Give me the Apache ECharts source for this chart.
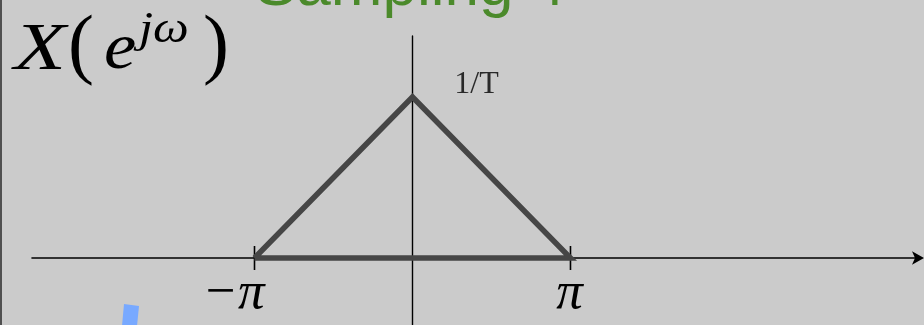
<!DOCTYPE html>
<html>
<head>
<meta charset="utf-8">
<title>Sampling 4</title>
<script src="https://cdn.jsdelivr.net/npm/echarts@6/dist/echarts.min.js"></script>
<style>
  html, body { margin: 0; padding: 0; background: #cbcbcb; }
  #chart { width: 924px; height: 325px; }
</style>
</head>
<body>
<div id="chart"></div>
<script>
// Spectrum X(e^{jω}) of the sampled signal: a triangle between −π and π, peak 1/T
const omega = [-Math.PI, 0, Math.PI, -Math.PI];
const magnitude = [0, 1, 0, 0];          // amplitude in units of 1/T
const peakLabel = '1/T';
const tickValues = [-Math.PI, Math.PI];
const tickLabels = ['−π', 'π'];
const titleText = 'Sampling 4';

const chart = echarts.init(document.getElementById('chart'), null, { renderer: 'canvas' });

const lineData = omega.map((w, i) => [w, magnitude[i]]);
// label offsets put the π glyph right under its tick
const labelShift = [[-21, 36], [-1, 36]];
const tickData = tickValues.map((w, i) => ({
  value: [w, 0],
  name: tickLabels[i],
  label: { offset: labelShift[i] }
}));

const ink = '#000000';
const curve = '#464646';
const serif = '"Liberation Serif", "Times New Roman", serif';

chart.setOption({
  backgroundColor: '#cbcbcb',
  animation: false,
  grid: { left: 32, right: 6, top: 36, bottom: 0, containLabel: false },
  xAxis: {
    type: 'value',
    min: -7.566,
    max: 10.052,
    axisLine: {
      onZero: true,
      lineStyle: { color: ink, width: 1.6 },
      symbol: ['none', 'arrow'],
      symbolSize: [10, 12],
      symbolOffset: [0, 6]
    },
    axisTick: { show: false },
    axisLabel: { show: false },
    splitLine: { show: false }
  },
  yAxis: {
    type: 'value',
    min: -0.4161,
    max: 1.3789,
    axisLine: { show: true, onZero: true, lineStyle: { color: ink, width: 1.4 } },
    axisTick: { show: false },
    axisLabel: { show: false },
    splitLine: { show: false }
  },
  graphic: [
    // slide frame edge on the left
    { type: 'rect', shape: { x: 0, y: 0, width: 2, height: 325 }, style: { fill: '#505050' }, silent: true, z: 10 },
    // heading of the slide
    {
      type: 'text', x: 255, y: -43,
      style: { text: titleText, fill: '#4b8a2b', font: '62px "Liberation Sans", Arial, sans-serif' }
    },
    // X(e^{jω}) heading of the plot
    { type: 'text', x: 14, y: 17, scaleX: 1.25, style: { text: 'X', fill: '#000', font: 'italic 68px ' + serif } },
    { type: 'text', x: 68, y: 10, style: { text: '(', fill: '#000', font: '78px ' + serif } },
    { type: 'text', x: 104, y: 18, scaleX: 1.1, style: { text: 'e', fill: '#000', font: 'italic 66px ' + serif } },
    { type: 'text', x: 139, y: 8, scaleX: 1.15, style: { text: 'jω', fill: '#000', font: 'italic 44px ' + serif } },
    { type: 'text', x: 203, y: 10, style: { text: ')', fill: '#000', font: '78px ' + serif } },
    // pen stroke at the lower left
    {
      type: 'polygon',
      shape: { points: [[124, 304], [139, 306], [137, 326], [122, 326]] },
      style: { fill: '#78a9ff' }, silent: true
    }
  ],
  series: [
    {
      type: 'line',
      data: lineData,
      symbol: 'none',
      lineStyle: { color: curve, width: 5.5, join: 'miter', cap: 'butt' },
      z: 3
    },
    {
      // apex annotation
      type: 'scatter',
      data: [[omega[1], magnitude[1]]],
      symbolSize: 0,
      label: {
        show: true,
        formatter: peakLabel,
        position: 'inside',
        offset: [64, -12],
        color: '#000',
        fontFamily: serif,
        fontSize: 32
      },
      z: 5
    },
    {
      // tick marks at ±π with their labels
      type: 'scatter',
      data: tickData,
      symbol: 'rect',
      symbolSize: [1.6, 24],
      itemStyle: { color: ink, opacity: 1 },
      label: {
        show: true,
        formatter: p => p.name,
        position: 'inside',
        color: '#000',
        fontFamily: serif,
        fontStyle: 'italic',
        fontSize: 53
      },
      z: 2
    }
  ]
});
</script>
</body>
</html>
